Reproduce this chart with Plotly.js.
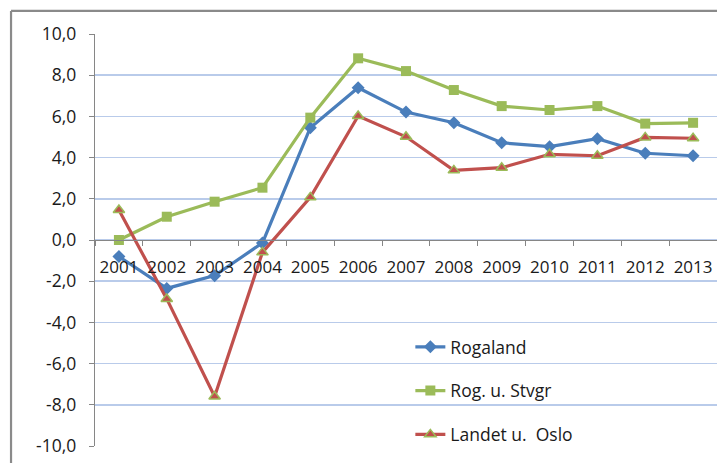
<!DOCTYPE html>
<html>
<head>
<meta charset="utf-8">
<script src="https://cdn.plot.ly/plotly-3.0.1.min.js"></script>
<style>html,body{margin:0;padding:0;background:#fff}#chart{width:717px;height:463px}</style>
</head>
<body>
<div id="chart"></div>
<script>
const years = ['2001','2002','2003','2004','2005','2006','2007','2008','2009','2010','2011','2012','2013'];
const rogaland = [-0.8,-2.35,-1.73,-0.14,5.45,7.39,6.21,5.69,4.72,4.53,4.92,4.21,4.09];
const rogUStvgr = [0.0,1.13,1.86,2.54,5.94,8.82,8.2,7.28,6.5,6.31,6.5,5.65,5.69];
const landetUOslo = [1.46,-2.86,-7.6,-0.6,2.07,6.02,5.01,3.38,3.51,4.16,4.09,4.98,4.94];
const yTickVals = [-10,-8,-6,-4,-2,0,2,4,6,8,10];
const yTickText = ['-10,0','-8,0','-6,0','-4,0','-2,0','0,0','2,0','4,0','6,0','8,0','10,0'];

const font = {family: '"Open Sans", "Liberation Sans", sans-serif', size: 17.5, color: '#1a1a1a'};
const xfont = {family: '"Open Sans", "Liberation Sans", sans-serif', size: 17, color: '#1a1a1a'};

const traces = [
  {x: years, y: rogaland, name: 'Rogaland', legendgroup: 'a', type: 'scatter', mode: 'lines+markers',
   line: {color: '#4a7ebb', width: 3.2}, marker: {symbol: 'diamond', size: 10, color: '#4a7ebb'}},
  {x: years, y: rogUStvgr, name: 'Rog. u. Stvgr', legendgroup: 'b', type: 'scatter', mode: 'lines+markers',
   line: {color: '#9bbb59', width: 3.2}, marker: {symbol: 'square', size: 10, color: '#9bbb59'}},
  {x: years, y: landetUOslo, name: 'Landet u.  Oslo', legendgroup: 'c', type: 'scatter', mode: 'lines+markers',
   line: {color: '#c0504d', width: 3.2}, marker: {symbol: 'triangle-up', size: 10, color: '#c0504d', line: {color: '#9bbb59', width: 1.5}}}
];

const layout = {
  width: 717, height: 463,
  margin: {l: 95, r: 0, t: 34, b: 17},
  paper_bgcolor: '#fff', plot_bgcolor: '#fff',
  font: font,
  showlegend: true,
  legend: {x: 0.507, y: 0.284, xanchor: 'left', yanchor: 'top', bgcolor: 'rgba(0,0,0,0)',
           traceorder: 'grouped', tracegroupgap: 18, font: font},
  xaxis: {type: 'category', range: [-0.5, 12.5], anchor: 'free', position: 0.5,
          showline: true, linecolor: '#868686', linewidth: 1.2,
          ticks: 'outside', tickson: 'boundaries', ticklen: 5, tickcolor: '#868686',
          ticklabelstandoff: 11, tickangle: 0,
          showgrid: false, zeroline: false, tickfont: xfont, fixedrange: true},
  yaxis: {range: [-10, 10], tickvals: yTickVals, ticktext: yTickText,
          showline: true, linecolor: '#868686', linewidth: 1.2,
          ticks: 'outside', ticklen: 5, tickcolor: '#868686',
          ticklabelstandoff: 9,
          gridcolor: '#b9cbea', gridwidth: 1.5, zeroline: false, tickfont: font, fixedrange: true},
  shapes: [
    {type: 'line', xref: 'paper', yref: 'paper', x0: -0.135, x1: 1.2, y0: 1.056, y1: 1.056,
     line: {color: '#8a8a8a', width: 2.2}},
    {type: 'line', xref: 'paper', yref: 'paper', x0: -0.135, x1: -0.135, y0: 1.056, y1: -0.2,
     line: {color: '#8a8a8a', width: 2.2}}
  ]
};

Plotly.newPlot('chart', traces, layout, {displayModeBar: false, staticPlot: true});
</script>
</body>
</html>
